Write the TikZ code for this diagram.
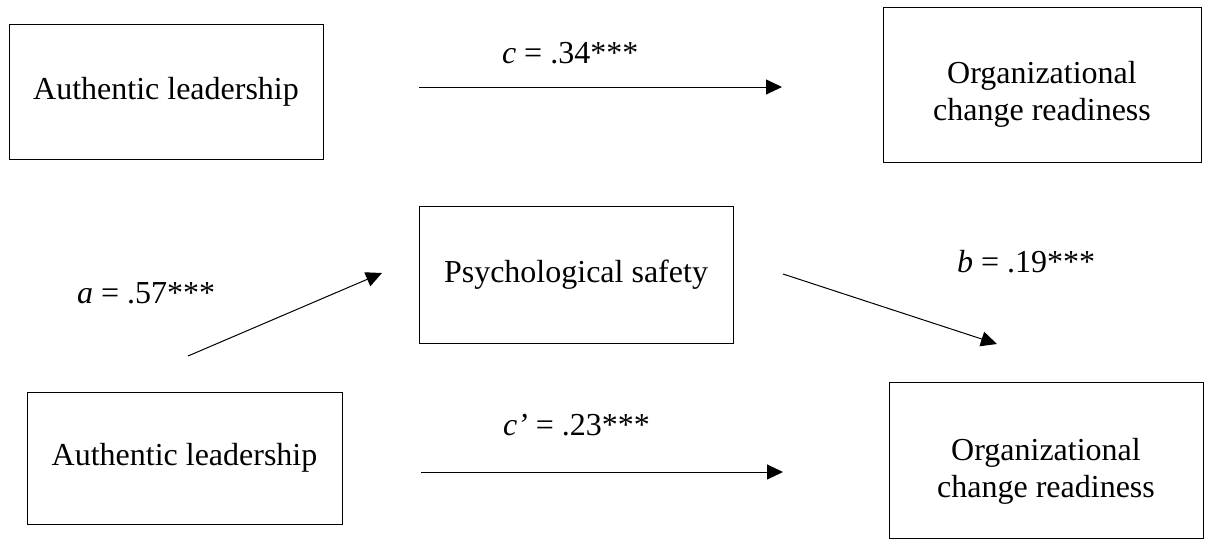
\documentclass[tikz,border=0pt]{standalone}
\usepackage{fontspec}
\setmainfont{Liberation Serif}
\usetikzlibrary{arrows.meta}
\begin{document}
\begin{tikzpicture}[x=0.5pt,y=-0.5pt,
  box/.style={draw,line width=0.5pt,inner sep=0pt,outer sep=0pt,align=center,font=\fontsize{16}{18.5}\selectfont},
  txt/.style={inner sep=0pt,outer sep=0pt,align=center,font=\fontsize{16}{18.5}\selectfont},
  lbl/.style={inner sep=0pt,outer sep=0pt,anchor=base west,font=\fontsize{16}{18.5}\selectfont},
  arr/.style={line width=0.5pt,-{Triangle[length=8pt,width=7.5pt]}}]
\useasboundingbox (0,0) rectangle (1206,541);
% boxes
\node[box,minimum width=157pt,minimum height=67.5pt] (al1) at (166,91.5) {Authentic leadership};
\node[box,minimum width=159pt,minimum height=77.5pt] (ocr1) at (1042,84.5) {};
\node[txt] (ocr1t) at (1042,94) {Organizational\\change readiness};
\node[box,minimum width=157pt,minimum height=68.5pt] (ps) at (576,274.5) {Psychological safety};
\node[box,minimum width=157.5pt,minimum height=66pt] (al2) at (184.5,458) {Authentic leadership};
\node[box,minimum width=157pt,minimum height=78pt] (ocr2) at (1046,460) {};
\node[txt] (ocr2t) at (1046,471) {Organizational\\change readiness};
% labels
\node[lbl] (lc) at (502,63) {\textit{c} = .34***};
\node[lbl] (la) at (77,303) {\textit{a} = .57***};
\node[lbl] (lb) at (957,272) {\textit{b} = .19***};
\node[lbl] (lcp) at (503,435) {\textit{c’} = .23***};
% arrow end points
\coordinate (cS) at (419,87);
\coordinate (cE) at (782,87);
\coordinate (aS) at (188,356);
\coordinate (aE) at (382,273);
\coordinate (bS) at (783,274);
\coordinate (bE) at (997,344);
\coordinate (cpS) at (421,472);
\coordinate (cpE) at (783,472);
% arrows
\draw[arr] (cS) -- (cE);
\draw[arr] (aS) -- (aE);
\draw[arr] (bS) -- (bE);
\draw[arr] (cpS) -- (cpE);
\end{tikzpicture}
\end{document}
